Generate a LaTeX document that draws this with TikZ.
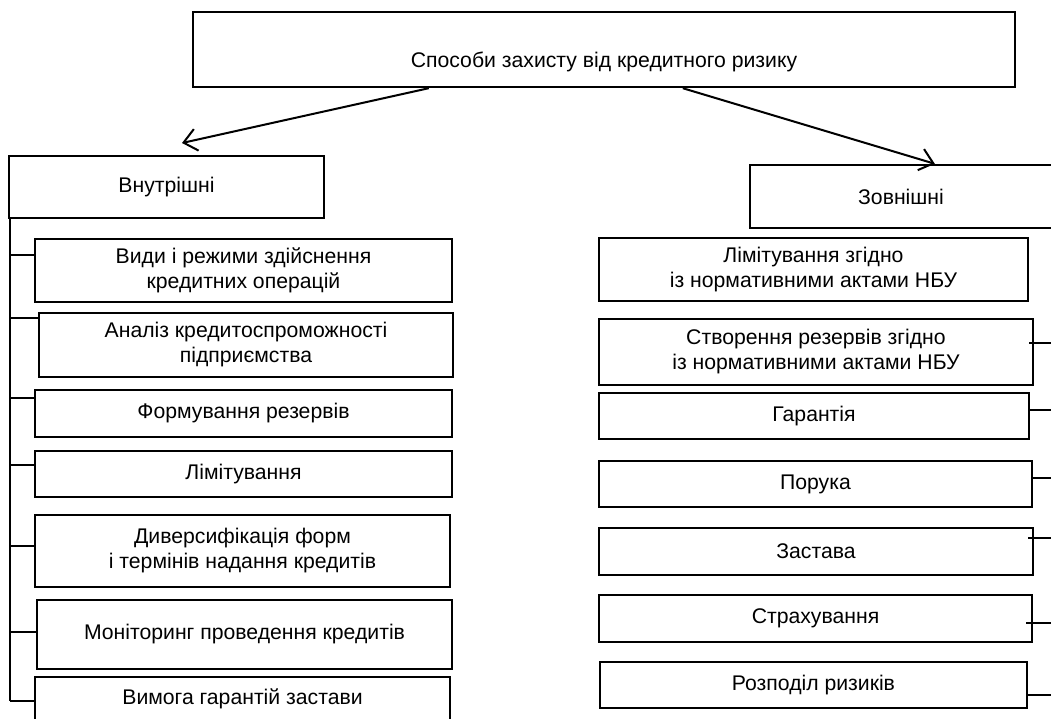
\documentclass[tikz,border=0pt]{standalone}
\usepackage{fontspec}
\setmainfont{Liberation Sans}
\usetikzlibrary{arrows.meta}
\begin{document}
\begin{tikzpicture}[x=1pt,y=-1pt,
  box/.style={draw,line width=2.4pt,inner sep=0pt,align=center,font=\fontsize{21.2}{25}\selectfont},
  link/.style={line width=1.4pt},
  arr/.style={line width=2pt,-{Straight Barb[length=13pt,width=22pt,line width=2pt]}}]
\useasboundingbox (0,0) rectangle (1051,718);
\fill[white] (0,0) rectangle (1051,718);
% top
\node[box,minimum width=822,minimum height=75,text height=40pt,text depth=5pt] (top) at (604,49.5) {Способи захисту від кредитного ризику};
\node[box,minimum width=315,minimum height=62] (vint) at (166.5,187) {Внутрішні};
\node[box,minimum width=302,minimum height=63] (vzov) at (901,196.5) {Зовнішні};
% arrows
\coordinate (tipL) at (182,143);
\draw[arr] ([xshift=237pt]top.south west) -- (tipL);
\draw[arr] ([xshift=491pt]top.south west) -- ([xshift=186pt]vzov.north west);
% left column
\node[box,minimum width=417,minimum height=63] (l1) at (243.5,270.5) {Види і режими здійснення\\кредитних операцій};
\node[box,minimum width=414,minimum height=64] (l2) at (246,345) {Аналіз кредитоспроможності\\підприємства};
\node[box,minimum width=417,minimum height=47] (l3) at (243.5,413.5) {Формування резервів};
\node[box,minimum width=417,minimum height=46] (l4) at (243.5,474) {Лімітування};
\node[box,minimum width=415,minimum height=72] (l5) at (242.5,551) {Диверсифікація форм\\і термінів надання кредитів};
\node[box,minimum width=415,minimum height=69] (l6) at (244.5,634.5) {Моніторинг проведення кредитів};
\node[box,minimum width=415,minimum height=63,text height=15pt,text depth=24pt] (l7) at (242.5,708.5) {Вимога гарантій застави};
% spine
\coordinate (spTop) at (10,218);
\coordinate (spBot) at (10,701);
\draw[link] (spTop) -- (spBot);
\coordinate (c1) at (10,255);
\coordinate (c2) at (10,318);
\coordinate (c3) at (10,398);
\coordinate (c4) at (10,465);
\coordinate (c5) at (10,546);
\coordinate (c6) at (10,632);
\draw[link] (c1) -- (c1 -| l1.west);
\draw[link] (c2) -- (c2 -| l2.west);
\draw[link] (c3) -- (c3 -| l3.west);
\draw[link] (c4) -- (c4 -| l4.west);
\draw[link] (c5) -- (c5 -| l5.west);
\draw[link] (c6) -- (c6 -| l6.west);
\draw[link] (spBot) -- (spBot -| l7.west);
% right column
\node[box,minimum width=429,minimum height=63] (r1) at (813.5,269.5) {Лімітування згідно\\із нормативними актами НБУ};
\node[box,minimum width=434,minimum height=66] (r2) at (816,352) {Створення резервів згідно\\із нормативними актами НБУ};
\node[box,minimum width=430,minimum height=46] (r3) at (814,416) {Гарантія};
\node[box,minimum width=433,minimum height=46] (r4) at (815.5,484) {Порука};
\node[box,minimum width=434,minimum height=47] (r5) at (816,551.5) {Застава};
\node[box,minimum width=433,minimum height=47] (r6) at (815.5,618.5) {Страхування};
\node[box,minimum width=427,minimum height=46] (r7) at (813.5,685) {Розподіл ризиків};
\coordinate (e2) at (1051,343);
\coordinate (e3) at (1051,410);
\coordinate (e4) at (1051,478);
\coordinate (e5) at (1051,538);
\coordinate (e6) at (1051,623);
\coordinate (e7) at (1051,695);
\draw[link] ([xshift=-5pt]e2 -| r2.east) -- (e2);
\draw[link] (e3 -| r3.east) -- (e3);
\draw[link] (e4 -| r4.east) -- (e4);
\draw[link] ([xshift=-6pt]e5 -| r5.east) -- (e5);
\draw[link] ([xshift=-7pt]e6 -| r6.east) -- (e6);
\draw[link] (e7 -| r7.east) -- (e7);
\end{tikzpicture}
\end{document}
